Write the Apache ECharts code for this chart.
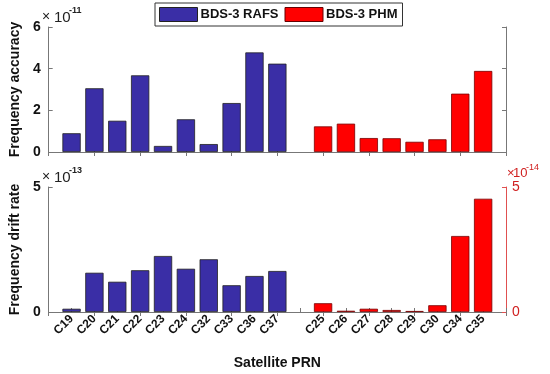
<!DOCTYPE html>
<html><head><meta charset="utf-8">
<script src="https://cdn.jsdelivr.net/npm/echarts@6/dist/echarts.min.js"></script>
<style>html,body{margin:0;padding:0;background:#fff}#c{width:550px;height:374px}</style>
</head><body><div id="c"></div>
<script>
// Satellite PRNs of each group
const rafsPRN = ['C19','C20','C21','C22','C23','C24','C32','C33','C36','C37'];
const phmPRN  = ['C25','C26','C27','C28','C29','C30','C34','C35'];
// Frequency accuracy (units of 1e-11)
const rafsAccuracy = [0.9, 3.06, 1.5, 3.68, 0.29, 1.57, 0.38, 2.35, 4.78, 4.24];
const phmAccuracy  = [1.23, 1.36, 0.67, 0.66, 0.49, 0.61, 2.8, 3.89];
// Frequency drift rate (RAFS in units of 1e-13, PHM in units of 1e-14)
const rafsDrift = [0.13, 1.57, 1.21, 1.67, 2.24, 1.73, 2.11, 1.07, 1.44, 1.64];
const phmDrift  = [0.35, 0.05, 0.13, 0.08, 0.04, 0.27, 3.04, 4.53];
// Axis ticks
const accTicks = {min: 0, max: 6, interval: 2};
const driftLeftTicks = {min: 0, max: 5, interval: 5};
const driftRightTicks = {min: 0, max: 5, interval: 5};

// Category slots: an empty edge, RAFS group, an empty gap, PHM group, an empty edge
const categories = [''].concat(rafsPRN, [''], phmPRN, ['']);
function place(values, offset) {
  const arr = categories.map(() => '-');
  values.forEach((v, i) => { arr[offset + i] = v; });
  return arr;
}
const rafsOff = 1, phmOff = rafsPRN.length + 2;

const BLUE = '#3a2ea6', RED = '#ff0000', AX = '#777';
const FONT = 'Liberation Sans, Arial, sans-serif';

function xAx(grid, pos, opts) {
  return Object.assign({
    type: 'category', gridIndex: grid, position: pos, data: categories, boundaryGap: false,
    axisLine: {show: true, lineStyle: {color: AX, width: 1}},
    axisTick: {show: true, inside: true, length: 4, lineStyle: {color: AX}},
    axisLabel: {show: false}, splitLine: {show: false}
  }, opts || {});
}
function yAx(grid, pos, t, opts) {
  return Object.assign({
    type: 'value', gridIndex: grid, position: pos, min: t.min, max: t.max, interval: t.interval,
    axisLine: {show: true, lineStyle: {color: AX, width: 1}},
    axisTick: {show: true, inside: true, length: 4, lineStyle: {color: AX}},
    axisLabel: {show: false}, splitLine: {show: false}
  }, opts || {});
}
const labelStyle = {show: true, fontFamily: FONT, fontWeight: 'bold', fontSize: 14, color: '#111', margin: 8};

function txt(x, y, text, size, color, weight) {
  return {type: 'text', x: x, y: y, silent: true,
    style: {text: text, fontSize: size, fontFamily: FONT, fontWeight: weight || 'normal', fill: color, verticalAlign: 'top', align: 'left'}};
}

const chart = echarts.init(document.getElementById('c'), null, {renderer: 'canvas'});
const barBase = {type: 'bar', barWidth: '80%', barGap: '-100%'};
chart.setOption({
  animation: false,
  textStyle: {fontFamily: FONT},
  grid: [
    {left: 43, right: 44, top: 27, height: 125},
    {left: 43, right: 44, top: 187, height: 125}
  ],
  legend: {
    left: 155, top: 3, itemWidth: 38, itemHeight: 14, itemGap: 6, icon: 'rect',
    padding: [4, 5, 4, 4], borderColor: '#333', borderWidth: 1, backgroundColor: '#fff',
    textStyle: {fontFamily: FONT, fontWeight: 'bold', fontSize: 13, color: '#111', padding: [0, 0, 0, -2]},
    data: [{name: 'BDS-3 RAFS', itemStyle: {borderColor: '#222', borderWidth: 1}},
           {name: 'BDS-3 PHM', itemStyle: {borderColor: '#600', borderWidth: 1}}]
  },
  xAxis: [
    xAx(0, 'bottom'),
    xAx(0, 'top'),
    xAx(1, 'bottom', {
      axisLine: {show: true, lineStyle: {color: '#e06060', width: 1}},
      axisLabel: {show: true, rotate: 45, fontFamily: FONT, fontWeight: 'bold', fontSize: 12, color: '#111', margin: 5, interval: 0},
      name: 'Satellite PRN', nameLocation: 'middle', nameGap: 44,
      nameTextStyle: {fontFamily: FONT, fontWeight: 'bold', fontSize: 14, color: '#111'}
    }),
    xAx(1, 'top')
  ],
  yAxis: [
    yAx(0, 'left', accTicks, {
      axisLabel: labelStyle,
      name: 'Frequency accuracy', nameLocation: 'middle', nameGap: 19,
      nameTextStyle: {fontFamily: FONT, fontWeight: 'bold', fontSize: 14, color: '#111'}
    }),
    yAx(0, 'right', accTicks),
    yAx(1, 'left', driftLeftTicks, {
      axisLabel: labelStyle,
      name: 'Frequency drift rate', nameLocation: 'middle', nameGap: 19,
      nameTextStyle: {fontFamily: FONT, fontWeight: 'bold', fontSize: 14, color: '#111'}
    }),
    yAx(1, 'right', driftRightTicks, {
      axisLine: {show: true, lineStyle: {color: '#e05050', width: 1}},
      axisTick: {show: true, inside: true, length: 4, lineStyle: {color: '#e05050'}},
      axisLabel: {show: true, fontFamily: FONT, fontSize: 14, color: '#d02020', margin: 6}
    })
  ],
  series: [
    Object.assign({}, barBase, {name: 'BDS-3 RAFS', xAxisIndex: 0, yAxisIndex: 0, data: place(rafsAccuracy, rafsOff),
      itemStyle: {color: BLUE, borderColor: '#222', borderWidth: 0.8}}),
    Object.assign({}, barBase, {name: 'BDS-3 PHM', xAxisIndex: 0, yAxisIndex: 0, data: place(phmAccuracy, phmOff),
      itemStyle: {color: RED, borderColor: '#700', borderWidth: 0.8}}),
    Object.assign({}, barBase, {name: 'BDS-3 RAFS', xAxisIndex: 2, yAxisIndex: 2, data: place(rafsDrift, rafsOff),
      itemStyle: {color: BLUE, borderColor: '#222', borderWidth: 0.8}}),
    Object.assign({}, barBase, {name: 'BDS-3 PHM', xAxisIndex: 2, yAxisIndex: 3, data: place(phmDrift, phmOff),
      itemStyle: {color: RED, borderColor: '#700', borderWidth: 0.8}})
  ],
  graphic: [
    txt(42, 10, '×', 14, '#222'),
    txt(54, 10, '10', 15, '#222'),
    txt(69, 6, '-11', 9, '#222', 'bold'),
    txt(42, 170, '×', 14, '#222'),
    txt(54, 170, '10', 15, '#222'),
    txt(69, 166, '-13', 9, '#222', 'bold'),
    txt(507, 167, '×', 13, '#d02020'),
    txt(513, 167, '10', 13, '#d02020'),
    txt(526, 163, '-14', 9, '#d02020')
  ]
});
</script></body></html>
